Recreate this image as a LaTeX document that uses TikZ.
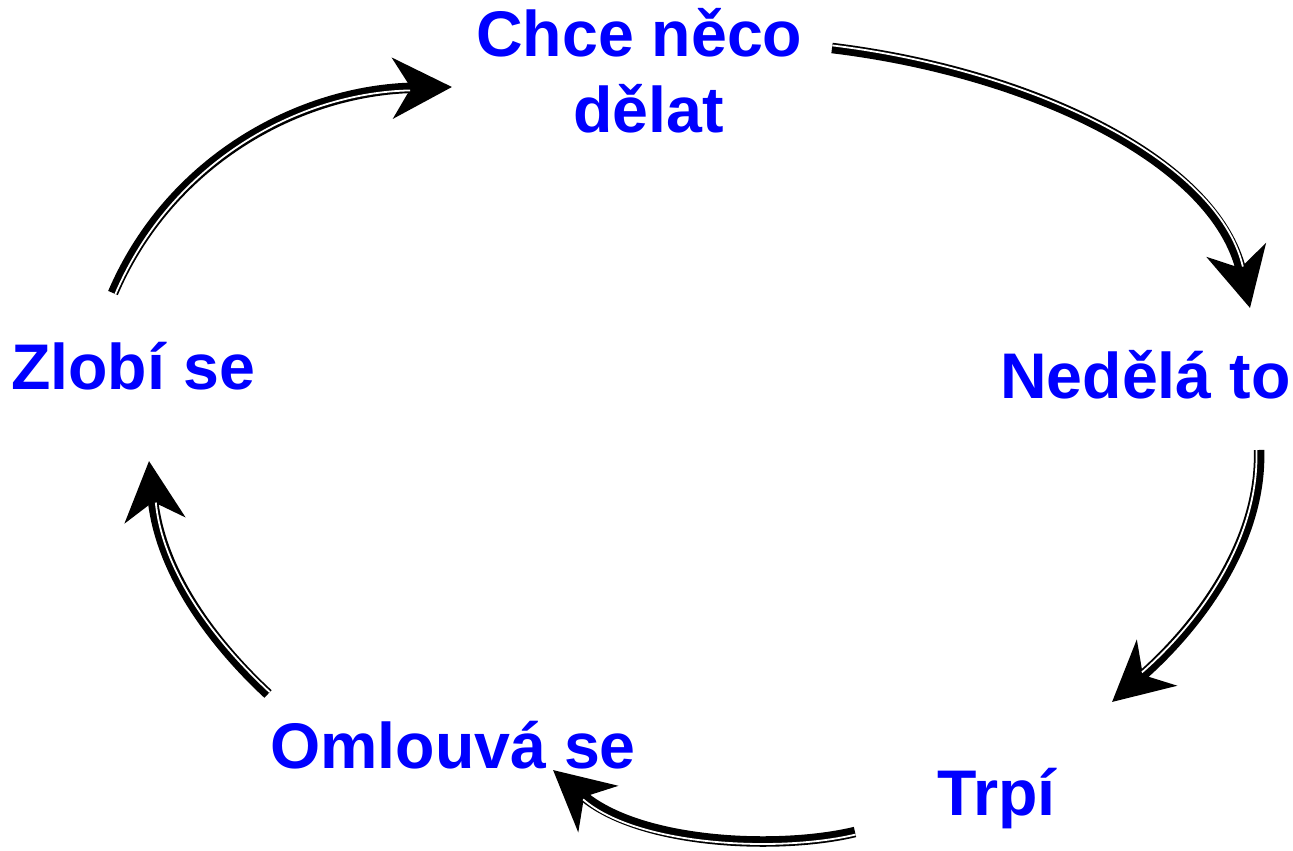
\documentclass[tikz,border=0pt]{standalone}
\usepackage{fontspec}
\setmainfont{Liberation Sans}
\usetikzlibrary{arrows.meta,calc}
\definecolor{txtblue}{RGB}{0,0,255}
\tikzset{
  lbl/.style={font=\fontsize{64.5}{76}\selectfont\bfseries, text=txtblue, inner sep=0pt, anchor=base west},
  shaft/.style={line width=10.5pt, black, line cap=butt, -{Stealth[length=59pt,width=60pt,inset=18pt]}},
  gapline/.style={line width=1.8pt, white, line cap=butt, shorten >=42pt},
}
\newcommand\dblcurve[5]{%
  \draw[shaft] (#1) .. controls (#2) and (#3) .. (#4);
  \draw[gapline] ($(#1)!#5!90:(#2)$) .. controls ($(#2)!#5!-90:(#1)$) and ($(#3)!#5!90:(#4)$) .. ($(#4)!#5!-90:(#3)$);
}
\begin{document}
\begin{tikzpicture}[x=1pt,y=-1pt]
\useasboundingbox (0,0) rectangle (1293,851);
% labels
\node[lbl] (chce) at (476,57) {Chce něco};
\node[lbl] (delat) at (573,132) {dělat};
\node[lbl] (nedela) at (1000,398) {Nedělá to};
\node[lbl] (trpi) at (937,815) {Trpí};
\node[lbl] (omlouva) at (270,768) {Omlouvá se};
\node[lbl] (zlobi) at (11,389) {Zlobí se};
% connector end points
\coordinate (s1) at (832,48);   \coordinate (e1) at (1250,308);
\coordinate (s2) at (1259,450); \coordinate (e2) at (1112,702);
\coordinate (s3) at (855,832);  \coordinate (e3) at (553,770);
\coordinate (s4) at (268,694);  \coordinate (e4) at (149,461);
\coordinate (s5) at (113,293);  \coordinate (e5) at (452,87);
% connectors
\dblcurve{s1}{1030,72}{1215,160}{e1}{2.6pt}
\dblcurve{s2}{1262,540}{1200,625}{e2}{-2.6pt}
\dblcurve{s3}{780,850}{640,845}{e3}{2.6pt}
\dblcurve{s4}{210,640}{160,570}{e4}{-2.6pt}
\dblcurve{s5}{170,160}{300,90}{e5}{-2.6pt}
\end{tikzpicture}
\end{document}
